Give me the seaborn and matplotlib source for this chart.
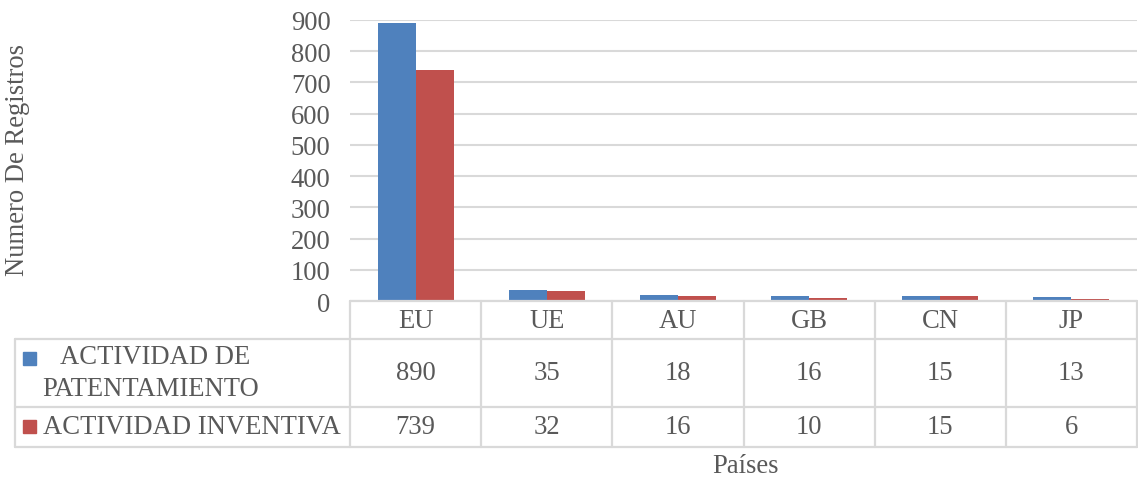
import pandas as pd
import seaborn as sns
import matplotlib.pyplot as plt
from matplotlib.patches import Rectangle
from matplotlib.transforms import blended_transform_factory

# data
paises = ['EU', 'UE', 'AU', 'GB', 'CN', 'JP']
patentamiento = [890, 35, 18, 16, 15, 13]
inventiva = [739, 32, 16, 10, 15, 6]
series = ['ACTIVIDAD DE PATENTAMIENTO', 'ACTIVIDAD INVENTIVA']
colores = ['#4F81BD', '#C0504D']

df = pd.DataFrame({
    'pais': paises * 2,
    'valor': patentamiento + inventiva,
    'serie': [series[0]] * len(paises) + [series[1]] * len(paises),
})

sns.set_style('white')
plt.rcParams['font.family'] = ['Liberation Serif', 'DejaVu Serif']
GRIS = '#595959'
LINEA = '#D9D9D9'
FS = 19.2

fig = plt.figure(figsize=(11.38, 4.81), dpi=100)
ax = fig.add_axes([350 / 1138, 1 - 302 / 481, 787 / 1138, 281 / 481])

sns.barplot(data=df, x='pais', y='valor', hue='serie', palette=colores,
            width=0.58, saturation=1, linewidth=0, ax=ax, legend=False)

ax.set_ylim(0, 900)
ax.set_xlim(-0.5, len(paises) - 0.5)
ax.set_yticks(range(0, 901, 100))
ax.tick_params(axis='y', labelsize=FS, labelcolor=GRIS, length=0, pad=14)
ax.set_xticks([])
ax.set_xlabel('')
ax.set_ylabel('')
ax.grid(axis='y', color=LINEA, linewidth=1.5)
ax.set_axisbelow(True)
for s in ax.spines.values():
    s.set_visible(False)

# data table under the plot
tr = blended_transform_factory(ax.transData, ax.transAxes)
def ay(p):
    return (302 - p) / 281
def axx(p):
    return (p - 350) / 787

y_top, y_h, y_r1, y_r2 = 0, ay(340), ay(408), ay(448)
x_left = axx(15)
x_right = len(paises) - 0.5

lw = 1.6
# horizontal lines
ax.plot([-0.5, x_right], [y_top, y_top], transform=tr, color=LINEA, lw=lw, clip_on=False)
for yy in (y_h, y_r1, y_r2):
    ax.plot([x_left, 1], [yy, yy], transform=ax.transAxes, color=LINEA, lw=lw, clip_on=False)
# vertical lines
for i in range(len(paises) + 1):
    ax.plot([i - 0.5, i - 0.5], [y_top, y_r2], transform=tr, color=LINEA, lw=lw, clip_on=False)
ax.plot([x_left, x_left], [y_h, y_r2], transform=ax.transAxes, color=LINEA, lw=lw, clip_on=False)

for i, p in enumerate(paises):
    ax.text(i, ay(321), p, transform=tr, ha='center', va='center', fontsize=FS, color=GRIS)
    ax.text(i, ay(374), str(patentamiento[i]), transform=tr, ha='center', va='center', fontsize=FS, color=GRIS)
    ax.text(i, ay(428), str(inventiva[i]), transform=tr, ha='center', va='center', fontsize=FS, color=GRIS)

# row labels with legend keys
sq_w, sq_h = 13 / 787, 13 / 281
ax.add_patch(Rectangle((axx(23), ay(366)), sq_w, sq_h, transform=ax.transAxes,
                       color=colores[0], clip_on=False))
ax.add_patch(Rectangle((axx(23), ay(434)), sq_w, sq_h, transform=ax.transAxes,
                       color=colores[1], clip_on=False))
ax.text(axx(60), ay(358), 'ACTIVIDAD DE', transform=ax.transAxes, ha='left', va='center', fontsize=FS, color=GRIS)
ax.text(axx(42), ay(390), 'PATENTAMIENTO', transform=ax.transAxes, ha='left', va='center', fontsize=FS, color=GRIS)
ax.text(axx(43), ay(428), series[1], transform=ax.transAxes, ha='left', va='center', fontsize=FS, color=GRIS)

fig.text(18 / 1138, 1 - 160 / 481, 'Numero De Registros', rotation=90, ha='center', va='center',
         fontsize=FS, color=GRIS)
fig.text(745 / 1138, 1 - 467 / 481, 'Países', ha='center', va='center', fontsize=FS, color=GRIS)

fig.savefig('out.png', dpi=100)
